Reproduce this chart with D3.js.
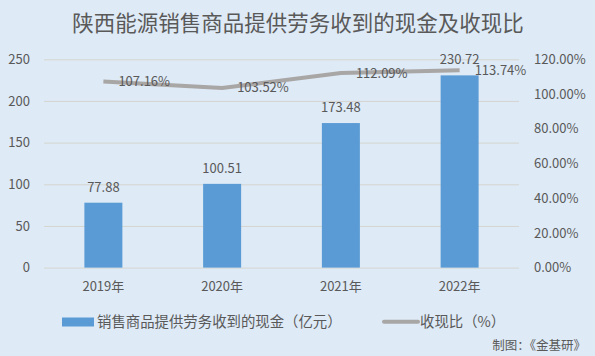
<!DOCTYPE html>
<html lang="zh-CN"><head><meta charset="utf-8">
<script src="https://cdn.jsdelivr.net/npm/d3@7"></script>
<style>
body{margin:0;padding:0;background:#DEEAF6;}
svg{display:block;}
text{font-family:"Noto Sans CJK SC","Noto Sans",sans-serif;fill:#595959;}
</style></head>
<body>
<svg id="chart" width="595" height="356"></svg>
<script>
const categories = ["2019年","2020年","2021年","2022年"];
const cashValues = [77.88, 100.51, 173.48, 230.72];
const ratioValues = [1.0716, 1.0352, 1.1209, 1.1374];
const leftTicks = [0,50,100,150,200,250];
const rightTicks = [0,0.2,0.4,0.6,0.8,1.0,1.2];
const title = "陕西能源销售商品提供劳务收到的现金及收现比";
const legendBar = "销售商品提供劳务收到的现金（亿元）";
const legendLine = "收现比（%）";
const source = "制图：《金基研》";

const svg = d3.select("#chart");
svg.append("rect").attr("width",595).attr("height",356).attr("fill","#DEEAF6");

const x = d3.scaleBand().domain(categories).range([44,519]).paddingInner(0.68).paddingOuter(0.34);
const yL = d3.scaleLinear().domain([0,250]).range([267.6,59.3]);
const yR = d3.scaleLinear().domain([0,1.2]).range([267.6,59.3]);

// title
svg.append("text").attr("x",298).attr("y",30.5).attr("text-anchor","middle")
  .style("font-size","21.5px").text(title);

// gridlines
const grid = svg.append("g").call(d3.axisLeft(yL).tickValues(leftTicks).tickSize(-(519-44)).tickFormat(""))
  .attr("transform","translate(44,0)");
grid.select(".domain").remove();
grid.selectAll("line").attr("stroke","#D5D5CF").attr("stroke-width",1);

// left axis labels
const axL = svg.append("g").attr("transform","translate(44,0)")
  .call(d3.axisLeft(yL).tickValues(leftTicks).tickSize(0).tickPadding(14).tickFormat(d3.format("d")));
axL.select(".domain").remove();
axL.selectAll("text").style("font-size","13px").style("font-family",null).attr("fill","#595959");

// right axis labels
const axR = svg.append("g").attr("transform","translate(519,0)")
  .call(d3.axisRight(yR).tickValues(rightTicks).tickSize(0).tickPadding(15).tickFormat(d3.format(".2%")));
axR.select(".domain").remove();
axR.selectAll("text").style("font-size","13px").style("font-family",null).attr("fill","#595959");

// x axis labels
const axX = svg.append("g").attr("transform","translate(0,267.6)")
  .call(d3.axisBottom(x).tickSize(0).tickPadding(14));
axX.select(".domain").remove();
axX.selectAll("text").style("font-size","13px").style("font-family",null).attr("fill","#595959");

// bars
svg.append("g").selectAll("rect").data(cashValues).join("rect")
  .attr("x",(d,i)=>x(categories[i])).attr("width",x.bandwidth())
  .attr("y",d=>yL(d)).attr("height",d=>yL(0)-yL(d)).attr("fill","#5B9BD5");

// bar labels
svg.append("g").selectAll("text").data(cashValues).join("text")
  .attr("x",(d,i)=>x(categories[i])+x.bandwidth()/2).attr("y",d=>yL(d)-11)
  .attr("text-anchor","middle").style("font-size","13px").attr("fill","#404040")
  .text(d=>d3.format(".2f")(d));

// line
const line = d3.line().x((d,i)=>x(categories[i])+x.bandwidth()/2).y(d=>yR(d));
svg.append("path").datum(ratioValues).attr("d",line).attr("fill","none")
  .attr("stroke","#A9A6A6").attr("stroke-width",4).attr("stroke-linejoin","round");

// line labels
svg.append("g").selectAll("text").data(ratioValues).join("text")
  .attr("x",(d,i)=>x(categories[i])+x.bandwidth()/2+15).attr("y",d=>yR(d)+4.5)
  .attr("text-anchor","start").style("font-size","13px").attr("fill","#404040")
  .text(d=>d3.format(".2%")(d));

// legend
svg.append("rect").attr("x",62).attr("y",317.5).attr("width",32).attr("height",9).attr("fill","#5B9BD5");
svg.append("text").attr("x",97).attr("y",327).style("font-size","14.4px").text(legendBar);
svg.append("line").attr("x1",384).attr("x2",418).attr("y1",321.7).attr("y2",321.7)
  .attr("stroke","#A9A6A6").attr("stroke-width",4).attr("stroke-linecap","round");
svg.append("text").attr("x",420).attr("y",327).style("font-size","14.4px").text(legendLine);

// source
svg.append("text").attr("x",586).attr("y",350).attr("text-anchor","end").style("font-size","12.5px").text(source);
</script>
</body></html>
